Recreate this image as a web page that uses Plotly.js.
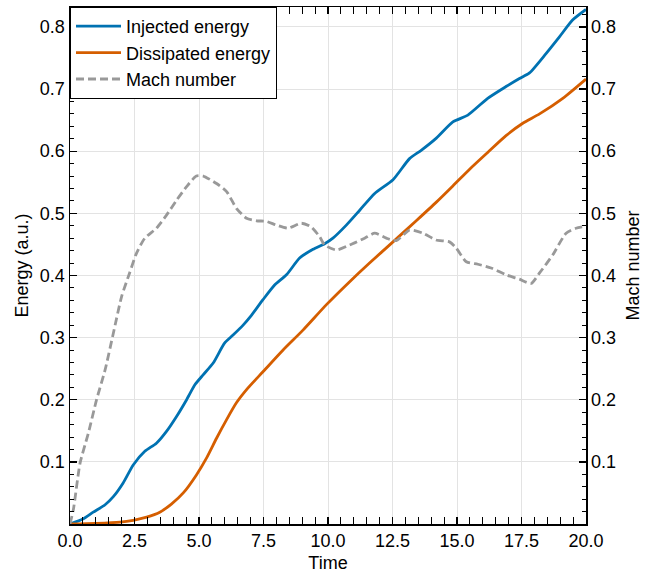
<!DOCTYPE html>
<html>
<head>
<meta charset="utf-8">
<script src="https://cdn.plot.ly/plotly-3.0.1.min.js"></script>
<style>html,body{margin:0;padding:0;background:#fff;}#chart{width:654px;height:573px;}</style>
</head>
<body>
<div id="chart"></div>
<script>
const injT = [0,0.5,0.9,1.36,1.68,2.06,2.45,2.9,3.35,3.74,4.13,4.52,4.84,5.16,5.55,5.99,6.32,6.71,7.0,7.48,7.94,8.39,8.9,9.42,9.87,10.19,10.71,11.23,11.81,12.52,13.16,13.6,14.2,14.84,15.42,16.19,16.9,17.42,17.81,18.45,18.97,19.48,20];
const injV = [0,0.008,0.019,0.031,0.044,0.066,0.095,0.117,0.130,0.149,0.173,0.200,0.224,0.240,0.259,0.291,0.304,0.320,0.334,0.361,0.385,0.401,0.428,0.442,0.451,0.460,0.481,0.505,0.532,0.554,0.588,0.601,0.621,0.647,0.658,0.685,0.704,0.717,0.726,0.757,0.784,0.811,0.828];

const disT = [0,1,1.94,2.45,2.97,3.48,3.93,4.39,4.9,5.29,5.68,6.07,6.45,6.9,7.48,8.26,9.03,9.94,10.84,11.61,12.52,13.42,14.2,14.84,15.49,16.19,16.9,17.55,18.2,19.1,20];
const disV = [0,0.001,0.003,0.006,0.011,0.019,0.032,0.050,0.079,0.106,0.138,0.168,0.195,0.219,0.245,0.280,0.312,0.353,0.390,0.420,0.454,0.488,0.518,0.544,0.571,0.598,0.625,0.645,0.660,0.685,0.716];

const machT = [0,0.13,0.39,0.71,1.03,1.36,1.68,2.0,2.31,2.58,2.9,3.35,3.74,4.13,4.52,4.9,5.16,5.68,6.07,6.45,6.84,7.23,7.61,8.0,8.45,8.97,9.35,9.68,9.87,10.32,10.84,11.42,11.81,12.26,12.65,13.16,13.68,14.19,14.71,14.97,15.36,15.81,16.32,16.9,17.42,17.87,18.2,18.71,19.23,19.61,20];
const machV = [0,0.023,0.098,0.146,0.200,0.248,0.307,0.366,0.404,0.436,0.460,0.476,0.497,0.521,0.543,0.560,0.560,0.548,0.535,0.508,0.492,0.488,0.487,0.481,0.476,0.484,0.478,0.462,0.449,0.441,0.449,0.460,0.468,0.460,0.456,0.473,0.468,0.457,0.454,0.444,0.422,0.418,0.412,0.401,0.394,0.387,0.404,0.433,0.468,0.476,0.479];

const seriesNames = ['Injected energy','Dissipated energy','Mach number'];
const xTickVals = [0,2.5,5,7.5,10,12.5,15,17.5,20];
const xTickText = ['0.0','2.5','5.0','7.5','10.0','12.5','15.0','17.5','20.0'];
const yTickVals = [0.1,0.2,0.3,0.4,0.5,0.6,0.7,0.8];
const yTickText = ['0.1','0.2','0.3','0.4','0.5','0.6','0.7','0.8'];

const FONT = 'Liberation Sans, Arial, Helvetica, sans-serif';
const FS = 18;

const traces = [
  {x: injT, y: injV, name: seriesNames[0], type:'scatter', mode:'lines',
   line:{color:'#0072B2', width:2.8, shape:'spline', smoothing:0.6}},
  {x: disT, y: disV, name: seriesNames[1], type:'scatter', mode:'lines',
   line:{color:'#D55E00', width:2.8, shape:'spline', smoothing:0.6}},
  {x: machT, y: machV, name: seriesNames[2], type:'scatter', mode:'lines', yaxis:'y2',
   line:{color:'#999999', width:2.8, dash:'8px,4px', shape:'spline', smoothing:0.6}}
];

const yRange = [0, 0.832];
const commonY = {
  range: yRange, tickmode:'array', tickvals: yTickVals, ticktext: yTickText,
  ticks:'inside', ticklen:7, tickwidth:1.3, tickcolor:'#000',
  showline:true, linecolor:'#000', linewidth:1.5, zeroline:false,
  tickfont:{family:FONT, size:FS, color:'#000'},
  minor:{tickmode:'linear', tick0:0, dtick:0.02, ticks:'inside', ticklen:4, tickwidth:1, tickcolor:'#000', showgrid:false}
};

const layout = {
  width:654, height:573,
  margin:{l:70, r:68, t:7, b:49},
  paper_bgcolor:'#fff', plot_bgcolor:'#fff',
  font:{family:FONT, size:FS, color:'#000'},
  showlegend:true,
  legend:{x:0, y:1, xanchor:'left', yanchor:'top', bgcolor:'#fff', bordercolor:'#000', borderwidth:1,
          itemwidth:45,
          font:{family:FONT, size:FS, color:'#000'}},
  xaxis:{
    range:[0,20], tickmode:'array', tickvals:xTickVals, ticktext:xTickText,
    ticks:'inside', ticklen:7, tickwidth:1.3, tickcolor:'#000',
    showline:true, mirror:'allticks', linecolor:'#000', linewidth:1.5, zeroline:false,
    showgrid:true, gridcolor:'#e3e3e3', gridwidth:1,
    tickfont:{family:FONT, size:FS, color:'#000'},
    title:{text:'Time', font:{family:FONT, size:FS, color:'#000'}, standoff:8},
    minor:{tickmode:'linear', tick0:0, dtick:0.5, ticks:'inside', ticklen:4, tickwidth:1, tickcolor:'#000', showgrid:false}
  },
  yaxis: Object.assign({}, commonY, {
    showgrid:true, gridcolor:'#e3e3e3', gridwidth:1,
    title:{text:'Energy (a.u.)', font:{family:FONT, size:FS, color:'#000'}, standoff:6}
  }),
  yaxis2: Object.assign({}, commonY, {
    overlaying:'y', side:'right', showgrid:false,
    title:{text:'Mach number', font:{family:FONT, size:FS, color:'#000'}, standoff:11}
  })
};

Plotly.newPlot('chart', traces, layout, {displayModeBar:false, staticPlot:true});
</script>
</body>
</html>
